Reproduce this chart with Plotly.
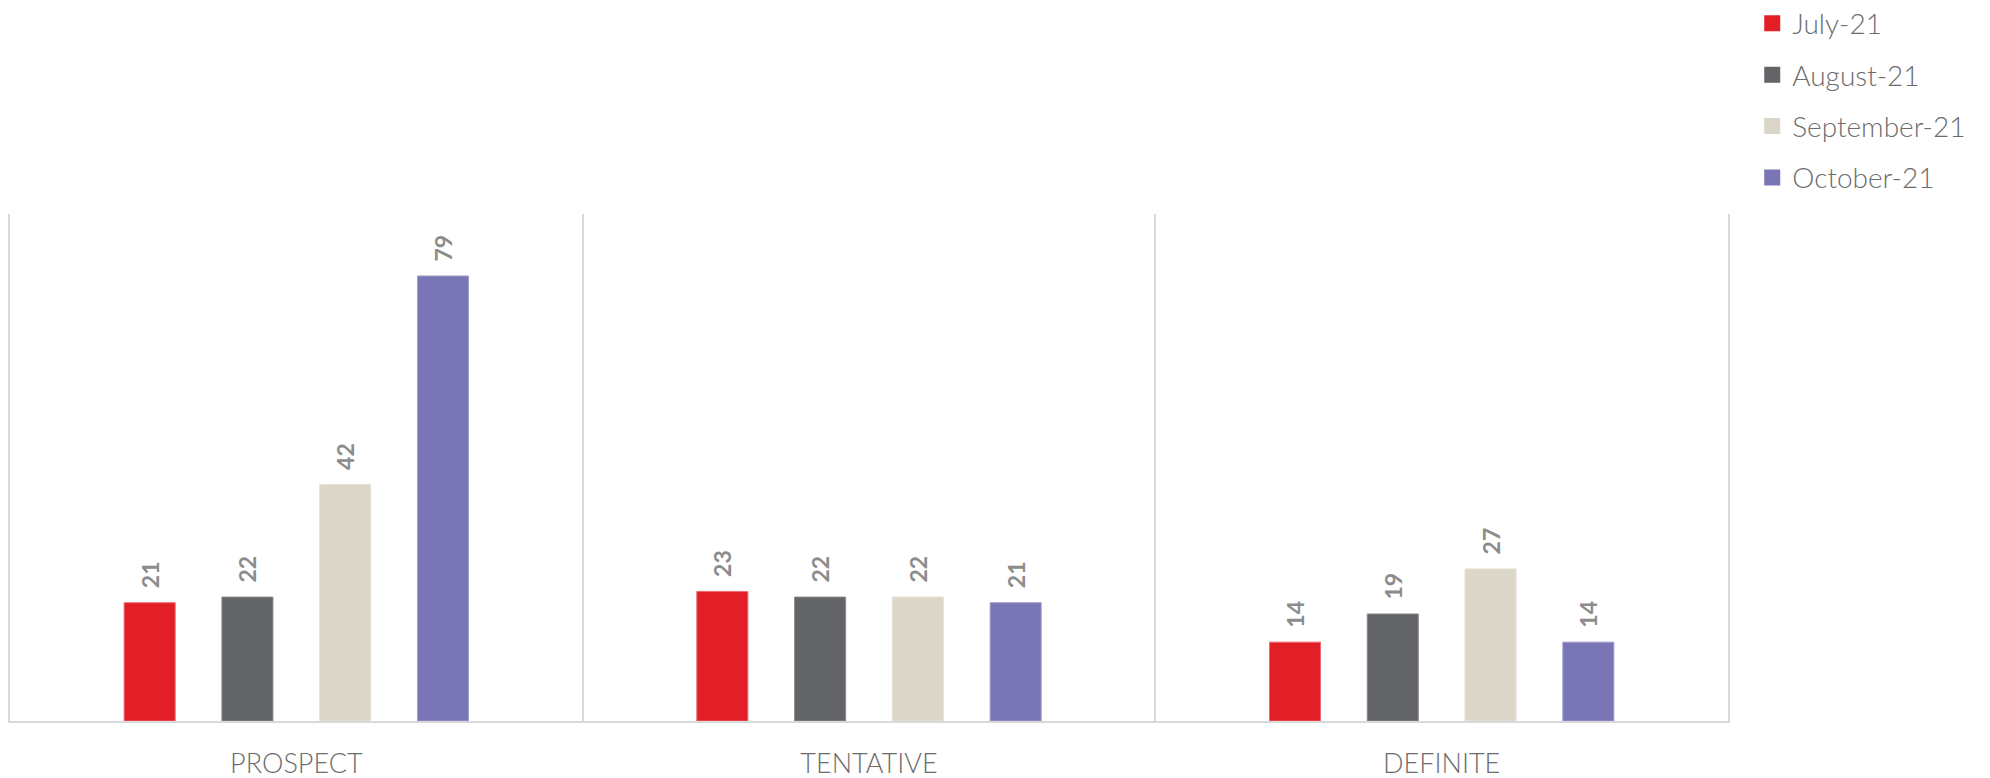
import plotly.graph_objects as go

categories = ["PROSPECT", "TENTATIVE", "DEFINITE"]
series_names = ["July-21", "August-21", "September-21", "October-21"]
july = [21, 23, 14]
august = [22, 22, 19]
september = [42, 22, 27]
october = [79, 21, 14]
colors = ["#e21e26", "#636468", "#dbd6c7", "#7a75b5"]
edge_colors = ["#ee6a70", "#8a8b8e", "#e6e2d6", "#a19dcc"]

values = [july, august, september, october]

FONT = "Lato"
fig = go.Figure()
for name, vals, col, edge in zip(series_names, values, colors, edge_colors):
    fig.add_trace(go.Bar(
        x=categories, y=vals, name=name,
        marker=dict(color=col, line=dict(width=1, color=edge)),
        text=[str(v) for v in vals], texttemplate="\u2002%{text}",
        textposition="outside", textangle=-90,
        textfont=dict(family=FONT, size=23, color="#8c8c8c", weight="bold"),
        cliponaxis=False, showlegend=False, legendgroup=name,
    ))
# legend entries (square markers)
for name, col in zip(series_names, colors):
    fig.add_trace(go.Scatter(
        x=[None], y=[None], mode="markers", name=name, legendgroup=name,
        marker=dict(symbol="square", size=18, color=col),
    ))

fig.update_layout(
    width=1990, height=778,
    margin=dict(l=10, r=262, t=214, b=57, autoexpand=False),
    paper_bgcolor="white", plot_bgcolor="white",
    barmode="group", bargap=0.317, bargroupgap=0.478,
    font=dict(family=FONT, color="#6d6d6d"),
    legend=dict(
        x=1.0141, xanchor="left", y=1.425, yanchor="top",
        font=dict(family=FONT, size=28, color="#6d6d6d", weight=300),
        traceorder="grouped", tracegroupgap=12, itemsizing="trace",
    ),
    xaxis=dict(
        showgrid=True, gridcolor="#d9d9d9", gridwidth=1.5, tickson="boundaries",
        ticks="", showline=True, linecolor="#d9d9d9", linewidth=2,
        tickfont=dict(family=FONT, size=27, color="#6d6d6d", weight=300),
        ticklabelstandoff=18,
    ),
    yaxis=dict(
        range=[0, 90], showgrid=False, zeroline=False, showticklabels=False,
        showline=True, mirror=True, linecolor="#d9d9d9", linewidth=1.5, ticks="",
    ),
)

fig.write_html("out.html", config={"displayModeBar": False},
               post_script="document.body.style.margin='0';")
